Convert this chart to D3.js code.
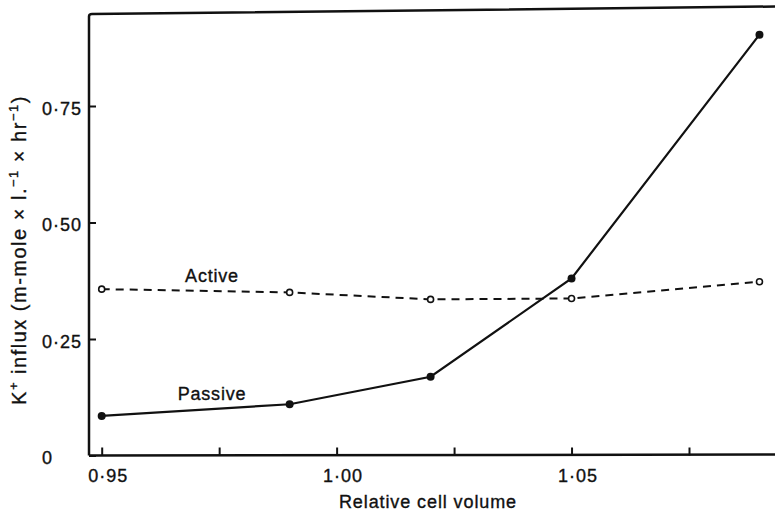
<!DOCTYPE html>
<html>
<head>
<meta charset="utf-8">
<script src="https://cdn.jsdelivr.net/npm/d3@7"></script>
<style>
    body { margin: 0; background: #fff; }
    svg { display: block; }
    text { font-family: "Liberation Sans", Arial, Helvetica, sans-serif; fill: #111; stroke: #111; stroke-width: 0.35; }
</style>
</head>
<body>
<div id="chart"></div>
<script>
// values
const volume  = [0.95, 0.99, 1.02, 1.05, 1.09];
const passive = [0.085, 0.11, 0.169, 0.38, 0.903];
const active  = [0.357, 0.350, 0.335, 0.337, 0.373];

const xTicks = [0.95, 0.975, 1.00, 1.025, 1.05, 1.075];
const xTickLabels = ['0·95', '', '1·00', '', '1·05', ''];
const yTicks = [0, 0.25, 0.50, 0.75];
const yTickLabels = ['0', '0·25', '0·50', '0·75'];

const width = 775, height = 511;
const left = 89, bottom = 455.5;

const svg = d3.select('#chart').append('svg')
    .attr('width', width)
    .attr('height', height);

// scales
const x = d3.scaleLinear()
    .domain([0.95, 1.075])
    .range([101.7, 689]);
const y = d3.scaleLinear()
    .domain([0, 0.75])
    .range([bottom, 106]);

// frame: left axis, bottom axis, top rule
const frame = svg.append('g')
    .attr('fill', 'none')
    .attr('stroke', '#111')
    .attr('stroke-width', 2.5);
frame.append('path')
    .attr('d', `M${left},${bottom} L${left},16.5 Q${left},14 ${left + 3},14 L${width},6.5`);
frame.append('path')
    .attr('d', `M${left},${bottom} L${width},${bottom - 1}`);

// x axis, ticks pointing inward
const xAxis = svg.append('g')
    .attr('transform', `translate(0,${bottom})`)
    .call(d3.axisBottom(x)
        .tickValues(xTicks)
        .tickSizeInner(-8)
        .tickSizeOuter(0)
        .tickPadding(14)
        .tickFormat((d, i) => xTickLabels[i]));
xAxis.select('.domain').remove();
xAxis.selectAll('line').attr('stroke', '#111').attr('stroke-width', 2);
xAxis.selectAll('text')
    .attr('dx', 6)
    .attr('font-size', 18)
    .attr('letter-spacing', 1)
    .attr('font-family', null)
    .attr('fill', null);

// y axis, ticks pointing inward
const yAxis = svg.append('g')
    .attr('transform', `translate(${left},0)`)
    .call(d3.axisLeft(y)
        .tickValues(yTicks)
        .tickSizeInner(-7)
        .tickSizeOuter(0)
        .tickPadding(7)
        .tickFormat((d, i) => yTickLabels[i]));
yAxis.select('.domain').remove();
yAxis.selectAll('line').attr('stroke', '#111').attr('stroke-width', 2);
yAxis.selectAll('text')
    .attr('font-size', 18)
    .attr('letter-spacing', 1)
    .attr('font-family', null)
    .attr('fill', null)
    .attr('dy', '0.45em');
// the zero label sits flush left under the others
yAxis.selectAll('.tick')
    .filter(d => d === 0)
    .select('text')
    .attr('text-anchor', 'start')
    .attr('x', 42 - left);

// axis titles
svg.append('text')
    .attr('x', 428)
    .attr('y', 508)
    .attr('text-anchor', 'middle')
    .attr('font-size', 18)
    .attr('letter-spacing', 0.9)
    .text('Relative cell volume');

const yTitle = svg.append('text')
    .attr('transform', 'translate(26,250) rotate(-90)')
    .attr('text-anchor', 'middle')
    .attr('font-size', 20)
    .attr('letter-spacing', 1.5);
yTitle.append('tspan').text('K');
yTitle.append('tspan').attr('dy', -8).attr('font-size', 13).text('+');
yTitle.append('tspan').attr('dy', 8).text(' influx (m-mole × l.');
yTitle.append('tspan').attr('dy', -8).attr('font-size', 13).text('−1');
yTitle.append('tspan').attr('dy', 8).text(' × hr');
yTitle.append('tspan').attr('dy', -8).attr('font-size', 13).text('−1');
yTitle.append('tspan').attr('dy', 8).text(')');

// series
const passiveData = volume.map((v, i) => [v, passive[i]]);
const activeData = volume.map((v, i) => [v, active[i]]);

const line = d3.line()
    .x(d => x(d[0]))
    .y(d => y(d[1]));

svg.append('path')
    .datum(activeData)
    .attr('fill', 'none')
    .attr('stroke', '#111')
    .attr('stroke-width', 2)
    .attr('stroke-dasharray', '8,6')
    .attr('d', line);

svg.append('path')
    .datum(passiveData)
    .attr('fill', 'none')
    .attr('stroke', '#111')
    .attr('stroke-width', 2.2)
    .attr('d', line);

svg.append('g').selectAll('circle')
    .data(activeData)
    .join('circle')
    .attr('cx', d => x(d[0]))
    .attr('cy', d => y(d[1]))
    .attr('r', 3)
    .attr('fill', '#fff')
    .attr('stroke', '#111')
    .attr('stroke-width', 1.6);

svg.append('g').selectAll('circle')
    .data(passiveData)
    .join('circle')
    .attr('cx', d => x(d[0]))
    .attr('cy', d => y(d[1]))
    .attr('r', 4)
    .attr('fill', '#111');

// series labels
svg.append('text')
    .attr('x', 212)
    .attr('y', 282)
    .attr('text-anchor', 'middle')
    .attr('font-size', 18)
    .attr('letter-spacing', 0.8)
    .text('Active');

svg.append('text')
    .attr('x', 212)
    .attr('y', 400)
    .attr('text-anchor', 'middle')
    .attr('font-size', 18)
    .attr('letter-spacing', 0.8)
    .text('Passive');
</script>
</body>
</html>
